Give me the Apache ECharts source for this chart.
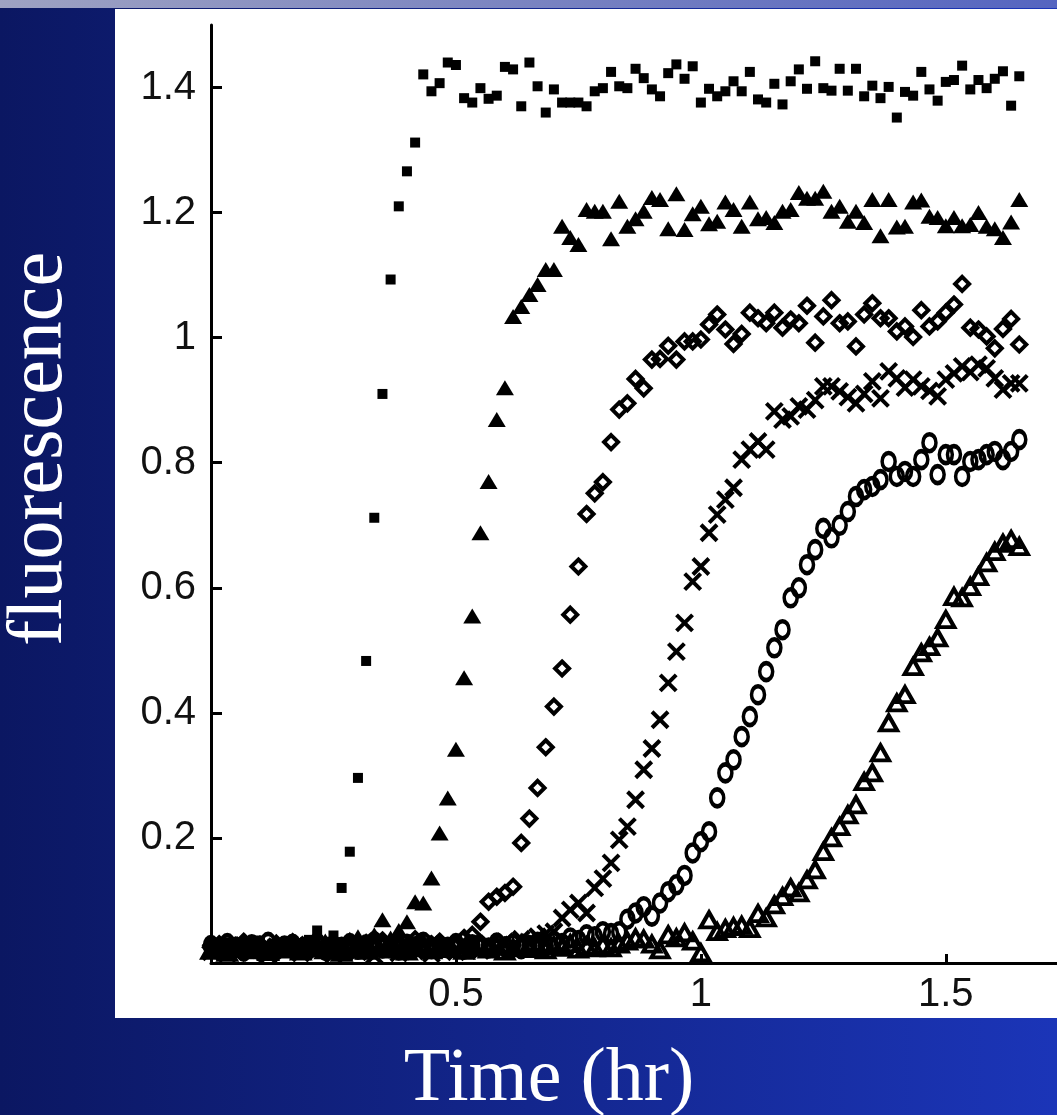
<!DOCTYPE html>
<html>
<head>
<meta charset="utf-8">
<title>fluorescence vs time</title>
<script src="https://cdn.jsdelivr.net/npm/echarts@6/dist/echarts.min.js"></script>
<style>
  html, body { margin: 0; padding: 0; }
  #chart { width: 1057px; height: 1115px; }
</style>
</head>
<body>
<div id="chart"></div>
<script>
// sample times in minutes (converted to hours for the axis)
const minutes = [
  0, 1, 2, 3, 4, 5, 6, 7, 8, 9, 10, 11, 12, 13, 14, 15, 16, 17, 18, 19,
  20, 21, 22, 23, 24, 25, 26, 27, 28, 29, 30, 31, 32, 33, 34, 35, 36, 37, 38, 39,
  40, 41, 42, 43, 44, 45, 46, 47, 48, 49, 50, 51, 52, 53, 54, 55, 56, 57, 58, 59,
  60, 61, 62, 63, 64, 65, 66, 67, 68, 69, 70, 71, 72, 73, 74, 75, 76, 77, 78, 79,
  80, 81, 82, 83, 84, 85, 86, 87, 88, 89, 90, 91, 92, 93, 94, 95, 96, 97, 98, 99
]

const squares = [
  0.030, 0.024, 0.033, 0.027, 0.021, 0.031, 0.036, 0.026, 0.023, 0.032,
  0.029, 0.025, 0.037, 0.052, 0.034, 0.044, 0.120, 0.178, 0.296, 0.483,
  0.712, 0.910, 1.093, 1.210, 1.266, 1.312, 1.421, 1.394, 1.407, 1.440,
  1.436, 1.383, 1.376, 1.399, 1.382, 1.387, 1.433, 1.429, 1.370, 1.440,
  1.402, 1.360, 1.397, 1.376, 1.376, 1.376, 1.370, 1.394, 1.399, 1.425,
  1.402, 1.399, 1.430, 1.415, 1.397, 1.386, 1.423, 1.437, 1.414, 1.434,
  1.376, 1.398, 1.386, 1.394, 1.410, 1.394, 1.425, 1.381, 1.376, 1.406,
  1.373, 1.410, 1.429, 1.398, 1.442, 1.399, 1.395, 1.430, 1.395, 1.430,
  1.386, 1.403, 1.383, 1.401, 1.352, 1.393, 1.387, 1.425, 1.397, 1.379,
  1.409, 1.412, 1.435, 1.397, 1.412, 1.399, 1.414, 1.426, 1.371, 1.418
]

const filledTriangles = [
  0.022, 0.028, 0.019, 0.025, 0.031, 0.024, 0.020, 0.027, 0.033, 0.023,
  0.026, 0.030, 0.021, 0.028, 0.035, 0.025, 0.030, 0.038, 0.042, 0.036,
  0.045, 0.069, 0.040, 0.052, 0.066, 0.098, 0.096, 0.136, 0.208, 0.264,
  0.342, 0.456, 0.555, 0.688, 0.770, 0.869, 0.920, 1.034, 1.050, 1.069,
  1.085, 1.109, 1.109, 1.178, 1.160, 1.149, 1.205, 1.202, 1.202, 1.158,
  1.218, 1.178, 1.190, 1.202, 1.224, 1.221, 1.174, 1.230, 1.173, 1.198,
  1.210, 1.182, 1.186, 1.217, 1.205, 1.178, 1.217, 1.190, 1.192, 1.184,
  1.202, 1.205, 1.232, 1.223, 1.223, 1.234, 1.202, 1.210, 1.186, 1.202,
  1.184, 1.221, 1.163, 1.221, 1.177, 1.178, 1.217, 1.220, 1.194, 1.192,
  1.179, 1.192, 1.179, 1.181, 1.200, 1.178, 1.174, 1.160, 1.185, 1.221
]

const diamonds = [
  0.025, 0.030, 0.021, 0.027, 0.034, 0.023, 0.029, 0.020, 0.031, 0.026,
  0.033, 0.022, 0.028, 0.035, 0.024, 0.030, 0.019, 0.027, 0.032, 0.025,
  0.029, 0.036, 0.023, 0.031, 0.027, 0.038, 0.021, 0.030, 0.034, 0.026,
  0.032, 0.040, 0.045, 0.066, 0.098, 0.106, 0.112, 0.122, 0.192, 0.231,
  0.280, 0.345, 0.410, 0.471, 0.557, 0.634, 0.718, 0.751, 0.769, 0.833,
  0.885, 0.895, 0.934, 0.919, 0.965, 0.966, 0.987, 0.965, 0.994, 0.994,
  0.997, 1.021, 1.037, 1.013, 0.990, 1.006, 1.040, 1.031, 1.023, 1.040,
  1.016, 1.029, 1.023, 1.051, 0.992, 1.034, 1.060, 1.023, 1.026, 0.986,
  1.037, 1.055, 1.031, 1.031, 1.010, 1.018, 1.001, 1.044, 1.018, 1.026,
  1.040, 1.053, 1.086, 1.016, 1.013, 1.002, 0.983, 1.014, 1.030, 0.989
]

const crosses = [
  0.018, 0.024, 0.015, 0.022, 0.028, 0.017, 0.021, 0.013, 0.026, 0.020,
  0.024, 0.016, 0.029, 0.019, 0.023, 0.014, 0.027, 0.021, 0.018, 0.025,
  0.012, 0.022, 0.027, 0.016, 0.024, 0.019, 0.030, 0.015, 0.022, 0.026,
  0.018, 0.023, 0.028, 0.020, 0.031, 0.025, 0.034, 0.029, 0.038, 0.033,
  0.042, 0.047, 0.050, 0.072, 0.085, 0.096, 0.080, 0.120, 0.135, 0.160,
  0.197, 0.218, 0.261, 0.309, 0.343, 0.389, 0.448, 0.498, 0.544, 0.610,
  0.634, 0.688, 0.717, 0.741, 0.760, 0.805, 0.821, 0.834, 0.821, 0.882,
  0.869, 0.874, 0.890, 0.885, 0.900, 0.922, 0.922, 0.914, 0.905, 0.895,
  0.910, 0.930, 0.903, 0.946, 0.935, 0.920, 0.933, 0.922, 0.915, 0.906,
  0.933, 0.943, 0.954, 0.945, 0.957, 0.951, 0.935, 0.917, 0.927, 0.927
]

const circles = [
  0.028, 0.022, 0.031, 0.025, 0.019, 0.029, 0.024, 0.033, 0.021, 0.027,
  0.030, 0.023, 0.026, 0.032, 0.020, 0.028, 0.025, 0.031, 0.022, 0.029,
  0.034, 0.024, 0.027, 0.021, 0.030, 0.026, 0.033, 0.023, 0.028, 0.025,
  0.031, 0.022, 0.029, 0.027, 0.024, 0.032, 0.026, 0.030, 0.023, 0.028,
  0.033, 0.027, 0.035, 0.031, 0.040, 0.036, 0.045, 0.042, 0.050, 0.047,
  0.050, 0.070, 0.080, 0.090, 0.075, 0.096, 0.114, 0.125, 0.140, 0.176,
  0.194, 0.210, 0.264, 0.304, 0.325, 0.362, 0.394, 0.429, 0.466, 0.504,
  0.533, 0.584, 0.600, 0.637, 0.661, 0.695, 0.680, 0.700, 0.722, 0.746,
  0.757, 0.762, 0.773, 0.802, 0.778, 0.786, 0.778, 0.805, 0.832, 0.781,
  0.813, 0.813, 0.778, 0.802, 0.805, 0.813, 0.818, 0.805, 0.818, 0.837
]

const openTriangles = [
  0.020, 0.026, 0.017, 0.023, 0.029, 0.021, 0.025, 0.018, 0.027, 0.022,
  0.030, 0.019, 0.024, 0.028, 0.021, 0.026, 0.017, 0.023, 0.029, 0.020,
  0.025, 0.031, 0.022, 0.027, 0.019, 0.024, 0.030, 0.021, 0.026, 0.023,
  0.028, 0.020, 0.025, 0.029, 0.022, 0.027, 0.019, 0.024, 0.030, 0.023,
  0.026, 0.021, 0.028, 0.025, 0.031, 0.022, 0.027, 0.024, 0.029, 0.024,
  0.030, 0.035, 0.040, 0.038, 0.030, 0.021, 0.045, 0.040, 0.048, 0.035,
  0.016, 0.069, 0.050, 0.055, 0.058, 0.060, 0.055, 0.079, 0.072, 0.093,
  0.106, 0.120, 0.112, 0.133, 0.149, 0.178, 0.200, 0.218, 0.237, 0.253,
  0.290, 0.304, 0.336, 0.384, 0.416, 0.429, 0.474, 0.496, 0.506, 0.520,
  0.549, 0.586, 0.584, 0.602, 0.618, 0.640, 0.658, 0.671, 0.677, 0.666
]

const xTicks = [0.5, 1, 1.5]
const yTicks = [0.2, 0.4, 0.6, 0.8, 1, 1.2, 1.4]

const chart = echarts.init(document.getElementById('chart'))

function pairs(values) {
  return values.map((v, i) => [minutes[i] / 60, v])
}

const openStyle = {
  color: 'rgba(0,0,0,0)',
  borderColor: '#000',
  borderWidth: 4,
  opacity: 1
}

const labelFont = {
  fontFamily: 'Liberation Sans',
  fontSize: 40,
  color: '#111'
}

const option = {
  animation: false,
  graphic: [
    {
      type: 'rect',
      z: -20,
      shape: { x: 0, y: 0, width: 1057, height: 1115 },
      style: {
        fill: new echarts.graphic.LinearGradient(0, 0, 1, 0, [
          { offset: 0, color: '#0b1762' },
          { offset: 1, color: '#1b35b8' }
        ])
      }
    },
    {
      type: 'rect',
      z: -19,
      shape: { x: 0, y: 0, width: 1057, height: 8 },
      style: {
        fill: new echarts.graphic.LinearGradient(0, 0, 1, 0, [
          { offset: 0, color: '#9ea2c2' },
          { offset: 1, color: '#5565c0' }
        ])
      }
    },
    {
      type: 'rect',
      z: -18,
      shape: { x: 115, y: 9, width: 942, height: 1009 },
      style: { fill: '#ffffff' }
    },
    {
      type: 'text',
      x: 41,
      y: 449,
      rotation: Math.PI / 2,
      style: {
        text: 'fluorescence',
        fill: '#ffffff',
        font: '78px "Liberation Serif"',
        align: 'center',
        verticalAlign: 'middle'
      }
    },
    {
      type: 'text',
      x: 549,
      y: 1080,
      style: {
        text: 'Time (hr)',
        fill: '#ffffff',
        font: '76px "Liberation Serif"',
        align: 'center',
        verticalAlign: 'middle'
      }
    }
  ],
  grid: {
    left: 211,
    right: 0,
    top: 25,
    bottom: 152
  },
  xAxis: {
    type: 'value',
    min: 0,
    max: 1.727,
    interval: 0.5,
    splitLine: { show: false },
    axisLine: { lineStyle: { color: '#000', width: 3 } },
    axisTick: {
      inside: true,
      length: 9,
      customValues: xTicks,
      lineStyle: { color: '#000', width: 3 }
    },
    axisLabel: Object.assign({
      customValues: xTicks,
      margin: 12,
      formatter: v => String(v)
    }, labelFont)
  },
  yAxis: {
    type: 'value',
    min: 0,
    max: 1.5,
    interval: 0.1,
    splitLine: { show: false },
    axisLine: { lineStyle: { color: '#000', width: 3 } },
    axisTick: {
      inside: true,
      length: 11,
      customValues: yTicks,
      lineStyle: { color: '#000', width: 3 }
    },
    axisLabel: Object.assign({
      customValues: yTicks,
      margin: 15,
      formatter: v => String(Math.round(v * 10) / 10)
    }, labelFont)
  },
  series: [
    {
      name: 'squares',
      type: 'scatter',
      clip: false,
      symbol: 'rect',
      symbolSize: 10,
      itemStyle: { color: '#000', opacity: 1 },
      data: pairs(squares)
    },
    {
      name: 'filled triangles',
      type: 'scatter',
      clip: false,
      symbol: 'triangle',
      symbolSize: [18, 15],
      itemStyle: { color: '#000', opacity: 1 },
      data: pairs(filledTriangles)
    },
    {
      name: 'diamonds',
      type: 'scatter',
      clip: false,
      symbol: 'diamond',
      symbolSize: 14,
      itemStyle: openStyle,
      data: pairs(diamonds)
    },
    {
      name: 'crosses',
      type: 'scatter',
      clip: false,
      symbol: 'path://M0,0L10,10M10,0L0,10',
      symbolSize: 16,
      itemStyle: { color: 'rgba(0,0,0,0)', borderColor: '#000', borderWidth: 4, opacity: 1 },
      data: pairs(crosses)
    },
    {
      name: 'circles',
      type: 'scatter',
      clip: false,
      symbol: 'circle',
      symbolSize: [13, 17],
      itemStyle: openStyle,
      data: pairs(circles)
    },
    {
      name: 'open triangles',
      type: 'scatter',
      clip: false,
      symbol: 'triangle',
      symbolSize: [17, 15],
      itemStyle: openStyle,
      data: pairs(openTriangles)
    }
  ]
}

chart.setOption(option)
</script>
</body>
</html>
